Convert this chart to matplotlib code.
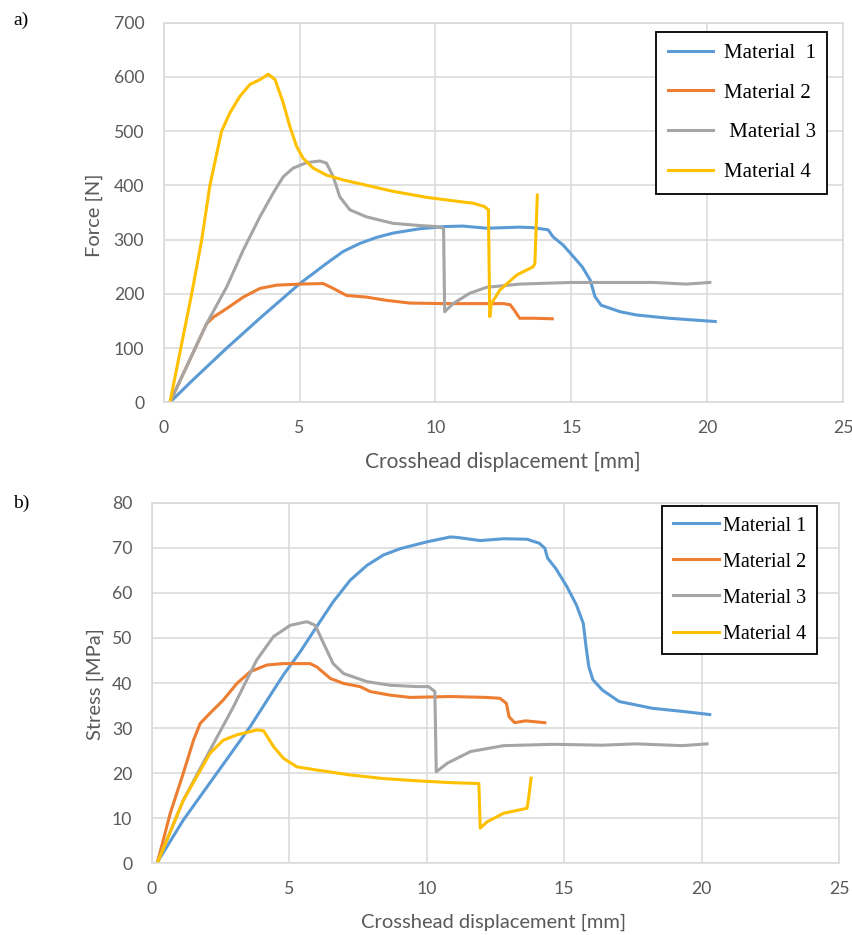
import matplotlib
matplotlib.use("Agg")
import matplotlib.pyplot as plt

# ---------------- data: (a) Force vs crosshead displacement ----------------
labels_a = ["Material  1", "Material 2", " Material 3", "Material 4"]
labels_b = ["Material 1", "Material 2", "Material 3", "Material 4"]
colors = ["#5B9BD5", "#ED7D31", "#A5A5A5", "#FFC000"]

f1_x = [0.23, 1.09, 2.32, 3.54, 5.01, 5.99, 6.6, 7.22, 7.83, 8.44, 9.42, 10.3, 11.0, 11.9, 13.1, 13.6, 14.15, 14.33, 14.7, 15.07, 15.4, 15.7, 15.87, 16.1, 16.8, 17.4, 18.6, 20.0, 20.3]
f1_y = [0, 42, 100, 155, 219, 256, 278, 293, 304, 312, 320, 324, 325, 321, 323, 322, 318, 305, 290, 269, 250, 225, 195, 179, 167, 161, 155, 150, 149]

f2_x = [0.23, 1.58, 1.83, 2.32, 2.93, 3.54, 4.15, 5.01, 5.87, 6.24, 6.73, 7.46, 8.2, 9.06, 10.3, 12.5, 12.75, 12.9, 13.1, 13.6, 14.3]
f2_y = [0, 145, 157, 173, 194, 210, 216, 218, 219, 210, 197, 194, 188, 183, 182, 182, 180, 170, 155, 155, 154]

f3_x = [0.23, 1.58, 2.32, 2.93, 3.54, 4.03, 4.4, 4.77, 5.26, 5.75, 5.99, 6.24, 6.48, 6.85, 7.46, 8.44, 9.42, 10.04, 10.3, 10.34, 10.65, 11.26, 11.88, 13.1, 15.0, 16.8, 18.0, 19.24, 20.1]
f3_y = [0, 145, 213, 281, 342, 386, 416, 432, 442, 445, 441, 416, 379, 355, 342, 330, 326, 324, 321, 167, 182, 201, 212, 218, 221, 221, 221, 218, 221]

f4_x = [0.23, 1.03, 1.4, 1.7, 2.13, 2.44, 2.8, 3.17, 3.54, 3.85, 4.1, 4.4, 4.64, 4.89, 5.13, 5.5, 5.99, 6.6, 7.22, 8.44, 9.67, 10.9, 11.4, 11.8, 11.95, 12.0, 12.06, 12.37, 13.0, 13.6, 13.66, 13.75]
f4_y = [0, 200, 300, 400, 500, 534, 564, 586, 595, 605, 595, 552, 509, 472, 450, 432, 419, 410, 403, 389, 378, 370, 367, 361, 355, 158, 182, 207, 235, 250, 256, 382]

# ---------------- data: (b) Stress vs crosshead displacement ----------------
s1_x = [0.18, 1.15, 2.37, 3.58, 4.79, 5.4, 6.0, 6.6, 7.22, 7.83, 8.43, 9.04, 10.0, 10.86, 11.1, 11.95, 12.8, 13.65, 14.1, 14.3, 14.4, 14.7, 15.1, 15.45, 15.7, 15.8, 15.9, 16.05, 16.4, 17.0, 18.2, 19.45, 20.3]
s1_y = [0, 9.6, 20, 30.3, 41.8, 46.9, 52.5, 58, 62.8, 66.1, 68.4, 69.8, 71.3, 72.4, 72.3, 71.6, 72, 71.9, 71, 69.9, 67.7, 65.4, 61.4, 57.3, 53.2, 48, 43.6, 40.7, 38.4, 35.9, 34.4, 33.6, 33]

s2_x = [0.2, 0.67, 1.15, 1.52, 1.76, 2.12, 2.6, 3.1, 3.58, 4.19, 4.79, 5.76, 6.0, 6.5, 6.98, 7.58, 7.95, 8.68, 9.4, 10.86, 12.19, 12.67, 12.9, 13.0, 13.2, 13.6, 14.3]
s2_y = [0, 11, 20, 27.3, 31, 33.3, 36.2, 39.9, 42.5, 44, 44.3, 44.3, 43.6, 41, 39.9, 39.2, 38.1, 37.3, 36.8, 37, 36.8, 36.6, 35.5, 32.5, 31.2, 31.6, 31.2]

s3_x = [0.2, 1.15, 2.12, 2.97, 3.82, 4.43, 5.04, 5.64, 5.95, 6.25, 6.6, 6.98, 7.83, 8.68, 9.65, 10.07, 10.3, 10.35, 10.75, 11.6, 12.8, 14.6, 16.4, 17.6, 19.3, 20.2]
s3_y = [0, 14, 25.1, 34.7, 45.1, 50.3, 52.8, 53.6, 52.8, 48.8, 44.3, 42.1, 40.3, 39.5, 39.2, 39.2, 38.1, 20.3, 22.2, 24.8, 26.1, 26.4, 26.2, 26.5, 26.1, 26.5]

s4_x = [0.2, 1.15, 2.12, 2.6, 3.1, 3.58, 3.82, 4.07, 4.43, 4.79, 5.28, 6.0, 7.22, 8.43, 9.65, 10.86, 11.9, 11.95, 12.2, 12.8, 13.65, 13.7, 13.8]
s4_y = [0, 14, 24.4, 27.3, 28.5, 29.2, 29.6, 29.4, 25.9, 23.3, 21.4, 20.7, 19.6, 18.8, 18.3, 17.9, 17.7, 7.8, 9.2, 11.1, 12.2, 14, 18.9]

xticks = [0, 5, 10, 15, 20, 25]
force_ticks = [0, 100, 200, 300, 400, 500, 600, 700]
stress_ticks = [0, 10, 20, 30, 40, 50, 60, 70, 80]

tick_color = "#595959"
grid_color = "#D9D9D9"
sans = ["Lato", "DejaVu Sans"]
serif = ["Liberation Serif", "DejaVu Serif"]

W, H = 852, 935
fig = plt.figure(figsize=(W / 100, H / 100), dpi=100)

def axes_px(x0, x1, ytop, ybot):
    return fig.add_axes([x0 / W, 1 - ybot / H, (x1 - x0) / W, (ybot - ytop) / H])

ax1 = axes_px(163.7, 843.0, 22.7, 402.3)
ax2 = axes_px(151.7, 839.0, 502.7, 863.3)

def style(ax, yt):
    ax.set_xlim(0, 25)
    ax.set_ylim(yt[0], yt[-1])
    ax.set_xticks(xticks)
    ax.set_yticks(yt)
    ax.grid(True, color=grid_color, linewidth=1.1)
    ax.set_axisbelow(True)
    for s in ax.spines.values():
        s.set_color(grid_color)
        s.set_linewidth(1.1)
    ax.tick_params(length=0, colors=tick_color, labelsize=12.7)
    ax.tick_params(axis="y", pad=14)
    ax.tick_params(axis="x", pad=13)
    for lab in ax.get_xticklabels() + ax.get_yticklabels():
        lab.set_family(sans)

series_a = [(f1_x, f1_y), (f2_x, f2_y), (f3_x, f3_y), (f4_x, f4_y)]
series_b = [(s1_x, s1_y), (s2_x, s2_y), (s3_x, s3_y), (s4_x, s4_y)]

for (x, y), c, l in zip(series_a, colors, labels_a):
    ax1.plot(x, y, color=c, linewidth=2.2, label=l, solid_joinstyle="round")
for (x, y), c, l in zip(series_b, colors, labels_b):
    ax2.plot(x, y, color=c, linewidth=2.2, label=l, solid_joinstyle="round")

style(ax1, force_ticks)
style(ax2, stress_ticks)

# axis titles placed as in the reference
fig.text(503 / W, 1 - 462 / H, "Crosshead displacement [mm]", ha="center", va="center",
         color=tick_color, fontsize=15, family=sans)
fig.text(494 / W, 1 - 922 / H, "Crosshead displacement [mm]", ha="center", va="center",
         color=tick_color, fontsize=14.5, family=sans)
fig.text(94 / W, 1 - 215 / H, "Force [N]", ha="center", va="center", rotation=90,
         color=tick_color, fontsize=14.5, family=sans)
fig.text(95 / W, 1 - 684 / H, "Stress [MPa]", ha="center", va="center", rotation=90,
         color=tick_color, fontsize=14.5, family=sans)

leg1 = ax1.legend(loc="upper right", bbox_to_anchor=(0.977, 0.976), borderaxespad=0,
                  frameon=True, fancybox=False, edgecolor="black", framealpha=1,
                  handlelength=2.2, handletextpad=0.5, labelspacing=0.97, borderpad=0.55,
                  prop={"family": serif, "size": 15})
leg1.get_frame().set_linewidth(1.3)

leg2 = ax2.legend(loc="upper right", bbox_to_anchor=(0.968, 0.991), borderaxespad=0,
                  frameon=True, fancybox=False, edgecolor="black", framealpha=1,
                  handlelength=2.3, handletextpad=0.2, labelspacing=0.84, borderpad=0.52,
                  prop={"family": serif, "size": 14.5})
leg2.get_frame().set_linewidth(1.3)

fig.text(13 / W, 1 - 20.5 / H, "a)", fontsize=14, family=serif, va="center")
fig.text(13 / W, 1 - 503.3 / H, "b)", fontsize=14, family=serif, va="center")

fig.savefig("out.png", dpi=100)
